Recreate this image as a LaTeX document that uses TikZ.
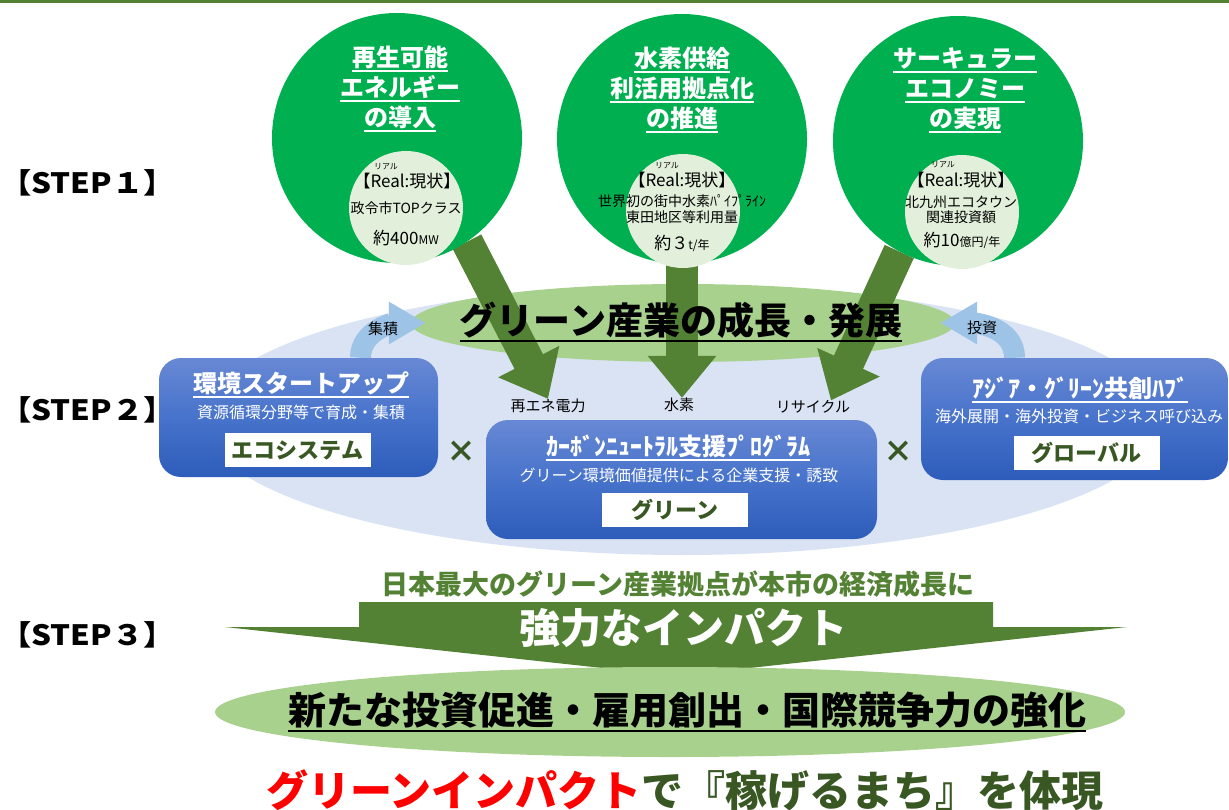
\documentclass[tikz,border=0pt]{standalone}
\usepackage{fontspec}
\setmainfont{Noto Sans CJK JP}
\usetikzlibrary{positioning,shapes.geometric,arrows.meta}
\definecolor{olive}{HTML}{548235}
\definecolor{dkgreen}{HTML}{385723}
\definecolor{leaf}{HTML}{00B050}
\definecolor{palegreen}{HTML}{E2EFDA}
\definecolor{lightgreen}{HTML}{A9D18E}
\definecolor{paleblue}{HTML}{DAE3F3}
\definecolor{skyblue}{HTML}{9DC3E6}
\definecolor{boxtop}{HTML}{6888D4}
\definecolor{boxmid}{HTML}{4773CB}
\definecolor{boxbot}{HTML}{2D5CBA}
\pgfdeclarelayer{back}
\pgfdeclarelayer{mid}
\pgfsetlayers{back,mid,main}
\newcommand\ulin[1]{\setbox0\hbox{#1}\leavevmode\rlap{\rule[-0.22em]{\wd0}{0.07em}}\box0}
\newcommand\sm{\fontsize{12}{12}\selectfont}
\tikzset{
	every node/.style={
		align=center, inner sep=0pt,
	},
	steplbl/.style={anchor=west, font=\bfseries\fontsize{28}{28}\selectfont\addfontfeature{FakeStretch=1.12}},
	bigcirc/.style={circle, fill=leaf, minimum size=250pt},
	realcirc/.style={circle, fill=palegreen, minimum size=114pt},
	circtitle/.style={text=white, font=\bfseries\fontsize{24}{30}\selectfont},
	ruby/.style={font=\fontsize{8}{8}\selectfont},
	realhead/.style={font=\fontsize{17}{17}\selectfont},
	realtxt/.style={font=\fontsize{14}{15.5}\selectfont},
	amount/.style={font=\fontsize{17}{17}\selectfont},
	flowlbl/.style={font=\fontsize{15}{15}\selectfont},
	bigarrow/.style={draw=olive, line width=32pt, -{Triangle[width=66pt,length=42pt]}},
	softarrow/.style={draw=skyblue, line width=21pt, -{Triangle[width=40pt,length=37pt]}},
	bluebox/.style={rectangle, rounded corners=22pt, top color=boxtop, bottom color=boxbot, middle color=boxmid},
	boxtitle/.style={text=white, font=\bfseries\fontsize{24}{24}\selectfont},
	boxsub/.style={text=white, font=\fontsize{16}{16}\selectfont},
	tagbox/.style={fill=white, text=dkgreen, minimum width=146pt, minimum height=34pt, font=\bfseries\fontsize{22}{22}\selectfont},
	times/.style={text=dkgreen, font=\bfseries\fontsize{30}{30}\selectfont},
}

\begin{document}
\begin{tikzpicture}[x=1pt,y=-1pt]
    \useasboundingbox (0,0) rectangle (1229,809);
    \fill[olive] (0,0) rectangle (1229,3);

    % steps
    \node (s1) [steplbl] at (0,183) {【STEP１】};
    \node (s2) [steplbl] at (0,410) {【STEP２】};
    \node (s3) [steplbl] at (0,635) {【STEP３】};

    % background fields
    \begin{pgfonlayer}{back}
    \node (field) [ellipse, fill=paleblue, minimum width=960pt, minimum height=270pt] at (683,420) {};
    \node (grow) [ellipse, fill=lightgreen, minimum width=544pt, minimum height=78pt] at (683,323) {};
    \end{pgfonlayer}

    % step 1 circles
    \node (c1) [bigcirc] at (397,138) {};
    \node (c2) [bigcirc] at (682,139) {};
    \node (c3) [bigcirc] at (958,141) {};
    \node (r1) [realcirc] at (406,208) {};
    \node (r2) [realcirc] at (683,211) {};
    \node (r3) [realcirc] at (962,212) {};

    \node (t1) [circtitle] at (400,89) {\ulin{再生可能}\\\ulin{エネルギー}\\\ulin{の導入}};
    \node (t2) [circtitle] at (682,90) {\ulin{水素供給}\\\ulin{利活用拠点化}\\\ulin{の推進}};
    \node (t3) [circtitle] at (965,90) {\ulin{サーキュラー}\\\ulin{エコノミー}\\\ulin{の実現}};

    \node (ru1) [ruby] at (386,167) {リアル};
    \node (q1) [realhead] at (407,181) {【Real:現状】};
    \node (d1) [realtxt] at (406,208) {政令市TOPクラス};
    \node (v1) [amount] at (406,238) {約400{\sm MW}};

    \node (ru2) [ruby] at (667,166) {リアル};
    \node (q2) [realhead] at (682,180) {【Real:現状】};
    \node (d2) [realtxt] at (682,209) {世界初の街中水素ﾊﾟｲﾌﾟﾗｲﾝ\\東田地区等利用量};
    \node (v2) [amount] at (682,243) {約３{\sm t/年}};

    \node (ru3) [ruby] at (943,165) {リアル};
    \node (q3) [realhead] at (961,180) {【Real:現状】};
    \node (d3) [realtxt] at (961,210) {北九州エコタウン\\関連投資額};
    \node (v3) [amount] at (962,240) {約10{\sm 億円/年}};

    % step 2
    \node (re) [flowlbl] at (548,406) {再エネ電力};
    \node (h2) [flowlbl] at (679,405) {水素};
    \node (rc) [flowlbl] at (813,407) {リサイクル};

    \node (eco) [bluebox, minimum width=279pt, minimum height=119pt] at (298.5,417.5) {};
    \node (cn) [bluebox, minimum width=391pt, minimum height=119pt] at (681.5,479.5) {};
    \node (glob) [bluebox, minimum width=307pt, minimum height=122pt] at (1074.5,419) {};

    \node (ecot) [boxtitle] at (301,385) {\ulin{環境スタートアップ}};
    \node (ecos) [boxsub] at (301,412) {資源循環分野等で育成・集積};
    \node (ecog) [tagbox] at (297.5,450) {エコシステム};

    \node (cnt) [boxtitle] at (678,448) {\ulin{ｶｰﾎﾞﾝﾆｭｰﾄﾗﾙ支援ﾌﾟﾛｸﾞﾗﾑ}};
    \node (cns) [boxsub] at (679,475) {グリーン環境価値提供による企業支援・誘致};
    \node (cng) [tagbox] at (675,510) {グリーン};

    \node (globt) [boxtitle] at (1080,390) {\ulin{ｱｼﾞｱ・ｸﾞﾘｰﾝ共創ﾊﾌﾞ}};
    \node (globs) [boxsub] at (1079,416) {海外展開・海外投資・ビジネス呼び込み};
    \node (globg) [tagbox] at (1086.5,453) {グローバル};

    \node (x1) [times] at (461,452) {×};
    \node (x2) [times] at (898,452) {×};

    \begin{pgfonlayer}{mid}
    \draw [bigarrow] (c1.-56) -- (re.north);
    \draw [bigarrow] (c2.south) -- (c2.south |- h2.north);
    \draw [bigarrow] (c3.-118) -- ([xshift=18]rc.north);
    \draw [softarrow] ([xshift=62]eco.north) to[out=90,in=180] ([xshift=15]grow.west);
    \draw [softarrow] ([xshift=-60]glob.north) to[out=90,in=0] ([xshift=-15]grow.east);
    \end{pgfonlayer}

    \node (growt) [font=\bfseries\fontsize{37}{37}\selectfont] at (681,322) {\ulin{グリーン産業の成長・発展}};
    \node (acc) [flowlbl] at (383,329) {集積};
    \node (inv) [flowlbl] at (982,328) {投資};

    % step 3
    \fill[olive] (359,602) -- (993,602) -- (993,627) -- (1127,627) -- (676,676)
        -- (225,627) -- (359,627) -- cycle;
    \node (base) [text=olive, font=\bfseries\fontsize{27}{27}\selectfont] at (678,584) {日本最大のグリーン産業拠点が本市の経済成長に};
    \node (imp) [text=white, font=\bfseries\fontsize{41}{41}\selectfont] at (683,628) {強力なインパクト};

    \node (res) [ellipse, fill=lightgreen, minimum width=910pt, minimum height=90pt] at (670,712) {};
    \node (rest) [font=\bfseries\fontsize{38}{38}\selectfont] at (687,712) {\ulin{新たな投資促進・雇用創出・国際競争力の強化}};

    \node (goal) [text=dkgreen, font=\bfseries\fontsize{42}{42}\selectfont] at (685,790) {{\color{red}グリーンインパクト}で『稼げるまち』を体現};
\end{tikzpicture}
\end{document}
